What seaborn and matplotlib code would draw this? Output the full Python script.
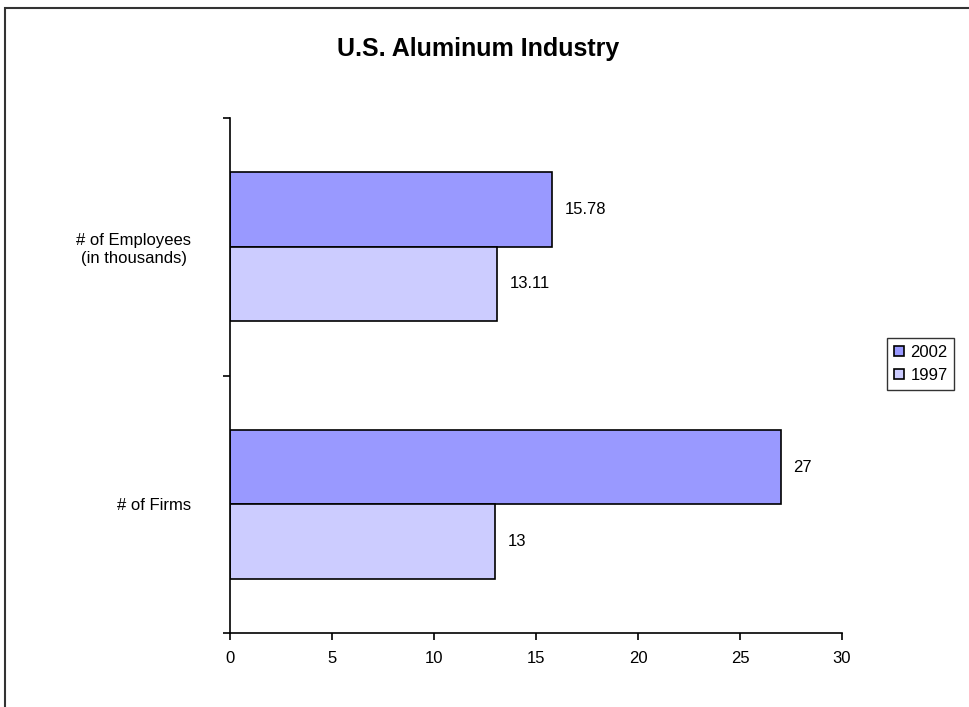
import matplotlib
matplotlib.use("Agg")
import matplotlib.pyplot as plt
import seaborn as sns
import pandas as pd
from matplotlib.patches import Rectangle

categories = ["# of Employees\n(in thousands)", "# of Firms"]
years = ["2002", "1997"]
values_2002 = [15.78, 27]
values_1997 = [13.11, 13]
label_2002 = ["15.78", "27"]
label_1997 = ["13.11", "13"]
x_ticks = [0, 5, 10, 15, 20, 25, 30]

df = pd.DataFrame({
    "category": categories * 2,
    "year": [years[0]] * 2 + [years[1]] * 2,
    "value": values_2002 + values_1997,
})

sns.set_style("white")
plt.rcParams["font.family"] = ["Liberation Sans", "DejaVu Sans"]
plt.rcParams["text.color"] = "black"
plt.rcParams["xtick.color"] = "black"
plt.rcParams["ytick.color"] = "black"
plt.rcParams["xtick.labelcolor"] = "black"
plt.rcParams["ytick.labelcolor"] = "black"

fig = plt.figure(figsize=(9.7, 7.07), dpi=100)
ax = fig.add_axes([230 / 970, 1 - 633 / 707, (842 - 230) / 970, (633 - 118) / 707])

palette = {"2002": "#9999FF", "1997": "#CCCCFF"}
sns.barplot(data=df, y="category", x="value", hue="year", hue_order=years,
            order=categories, palette=palette, orient="h", width=0.577,
            edgecolor="black", linewidth=1.2, saturation=1, ax=ax, legend=True)

for cont, labs in zip(ax.containers, [label_2002, label_1997]):
    ax.bar_label(cont, labels=labs, padding=9, fontsize=12, color="black")

ax.set_xlim(0, 30)
ax.set_ylim(1.5, -0.5)
ax.set_xticks(x_ticks)
ax.set_xticklabels([str(t) for t in x_ticks], fontsize=12)
ax.set_yticks([0, 1])
ax.set_yticklabels(categories, fontsize=12, ha="right", multialignment="center")
ax.tick_params(axis="y", which="major", length=0, pad=28)
ax.set_yticks([-0.5, 0.5, 1.5], minor=True)
ax.tick_params(axis="y", which="minor", length=5, width=1.2, direction="out", left=True)
ax.tick_params(axis="x", which="major", length=5, width=1.2, direction="out", bottom=True, pad=8)
ax.set_xlabel("")
ax.set_ylabel("")
for s in ["top", "right"]:
    ax.spines[s].set_visible(False)
for s in ["left", "bottom"]:
    ax.spines[s].set_color("black")
    ax.spines[s].set_linewidth(1.2)

leg = ax.legend(loc="upper left", bbox_to_anchor=(887 / 970, 1 - 338 / 707),
                bbox_transform=fig.transFigure, frameon=True, fontsize=12,
                handlelength=0.6, handleheight=0.6, handletextpad=0.4,
                borderpad=0.4, labelspacing=0.5, fancybox=False, title=None,
                borderaxespad=0)
leg.get_frame().set_edgecolor("black")
leg.get_frame().set_linewidth(1.0)

fig.text(478 / 970, 1 - 49 / 707, "U.S. Aluminum Industry", ha="center", va="center",
         fontsize=18, fontweight="bold")

fig.patches.append(Rectangle((5 / 970, -0.1), 1.2, 1 - 8 / 707 + 0.1,
                             transform=fig.transFigure, fill=False,
                             edgecolor="#333333", linewidth=1.5, clip_on=False))

fig.savefig("out.png", dpi=100)
